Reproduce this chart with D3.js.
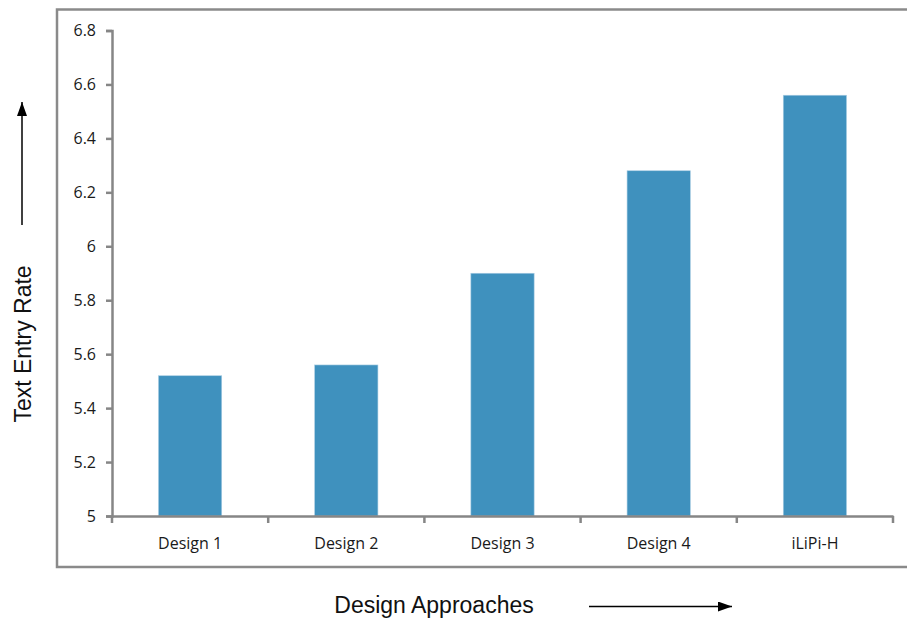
<!DOCTYPE html>
<html>
<head>
<meta charset="utf-8">
<script src="https://cdn.jsdelivr.net/npm/d3@7"></script>
<style>
  html, body { margin: 0; padding: 0; background: #fff; }
  svg { display: block; }
</style>
</head>
<body>
<svg id="chart" width="907" height="619"></svg>
<script>
const categories = ["Design 1", "Design 2", "Design 3", "Design 4", "iLiPi-H"];
const values = [5.52, 5.56, 5.90, 6.28, 6.56];
const yTicks = [5, 5.2, 5.4, 5.6, 5.8, 6, 6.2, 6.4, 6.6, 6.8];
const yTickLabels = ["5", "5.2", "5.4", "5.6", "5.8", "6", "6.2", "6.4", "6.6", "6.8"];
const yTitle = "Text Entry Rate";
const xTitle = "Design Approaches";

(function () {
const svg = d3.select("#chart");
const axisColor = "#868686";
const barColor = "#3f91be";
const tickFont = "'Open Sans', sans-serif";
const titleFont = "'Liberation Sans', Arial, sans-serif";

// outer frame (extends past right edge)
svg.append("path")
  .attr("d", "M 920 9.5 L 57 9.5 L 57 567 L 920 567")
  .attr("fill", "none")
  .attr("stroke", "#8a8a8a")
  .attr("stroke-width", 2.5);

const plotLeft = 112, plotRight = 893, plotTop = 30.5, plotBottom = 516;

const x = d3.scaleBand().domain(categories).range([plotLeft, plotRight]).paddingInner(0).paddingOuter(0);
const y = d3.scaleLinear().domain([5, 6.8]).range([plotBottom, plotTop]);

// bars
const barW = x.bandwidth() * 0.405;
svg.append("g").selectAll("rect")
  .data(values)
  .join("rect")
  .attr("x", (d, i) => x(categories[i]) + (x.bandwidth() - barW) / 2)
  .attr("width", barW)
  .attr("y", d => y(d))
  .attr("height", d => y(5) - y(d))
  .attr("fill", barColor)
  .attr("stroke", "#a9cde3")
  .attr("stroke-width", 0.6);

// y axis
const yAxis = d3.axisLeft(y)
  .tickValues(yTicks)
  .tickFormat((d, i) => yTickLabels[i])
  .tickSize(6)
  .tickSizeOuter(6)
  .tickPadding(10);
const gy = svg.append("g").attr("transform", `translate(${plotLeft},0)`).call(yAxis);
gy.select(".domain").attr("stroke", axisColor).attr("stroke-width", 2.5);
gy.selectAll(".tick line").attr("stroke", axisColor).attr("stroke-width", 2.5);
gy.selectAll(".tick text")
  .attr("fill", "#1a1a1a")
  .style("font-family", tickFont)
  .style("font-size", "16px")
  .style("font-weight", 500);

// x axis with boundary ticks
const xAxis = d3.axisBottom(x).tickSize(0).tickSizeOuter(0).tickPadding(22);
const gx = svg.append("g").attr("transform", `translate(0,${plotBottom})`).call(xAxis);
gx.select(".domain").attr("stroke", axisColor).attr("stroke-width", 2.5);
gx.selectAll(".tick text")
  .attr("fill", "#1a1a1a")
  .style("font-family", tickFont)
  .style("font-size", "16px")
  .style("font-weight", 500);
const boundaries = categories.map(c => x(c)).concat([x(categories[categories.length - 1]) + x.bandwidth()]);
gx.selectAll("line.bound")
  .data(boundaries)
  .join("line")
  .attr("class", "bound")
  .attr("x1", d => d).attr("x2", d => d)
  .attr("y1", 0).attr("y2", 7)
  .attr("stroke", axisColor)
  .attr("stroke-width", 2.5);

// arrow marker
const defs = svg.append("defs");
defs.append("marker")
  .attr("id", "arrow")
  .attr("viewBox", "0 0 14 10")
  .attr("refX", 14).attr("refY", 5)
  .attr("markerWidth", 14).attr("markerHeight", 10)
  .attr("markerUnits", "userSpaceOnUse")
  .attr("orient", "auto")
  .append("path")
  .attr("d", "M0,0 L14,5 L0,10 Z")
  .attr("fill", "#000");

// y title
svg.append("text")
  .attr("transform", "translate(31,344) rotate(-90)")
  .attr("text-anchor", "middle")
  .style("font-family", titleFont)
  .style("font-size", "23px")
  .attr("fill", "#111")
  .text(yTitle);
svg.append("line")
  .attr("x1", 22).attr("x2", 22)
  .attr("y1", 225).attr("y2", 102)
  .attr("stroke", "#000").attr("stroke-width", 1.5)
  .attr("marker-end", "url(#arrow)");

// x title
svg.append("text")
  .attr("x", 434).attr("y", 613)
  .attr("text-anchor", "middle")
  .style("font-family", titleFont)
  .style("font-size", "23px")
  .attr("fill", "#111")
  .text(xTitle);
svg.append("line")
  .attr("x1", 589).attr("x2", 732)
  .attr("y1", 606.5).attr("y2", 606.5)
  .attr("stroke", "#000").attr("stroke-width", 1.5)
  .attr("marker-end", "url(#arrow)");
})();
</script>
</body>
</html>
